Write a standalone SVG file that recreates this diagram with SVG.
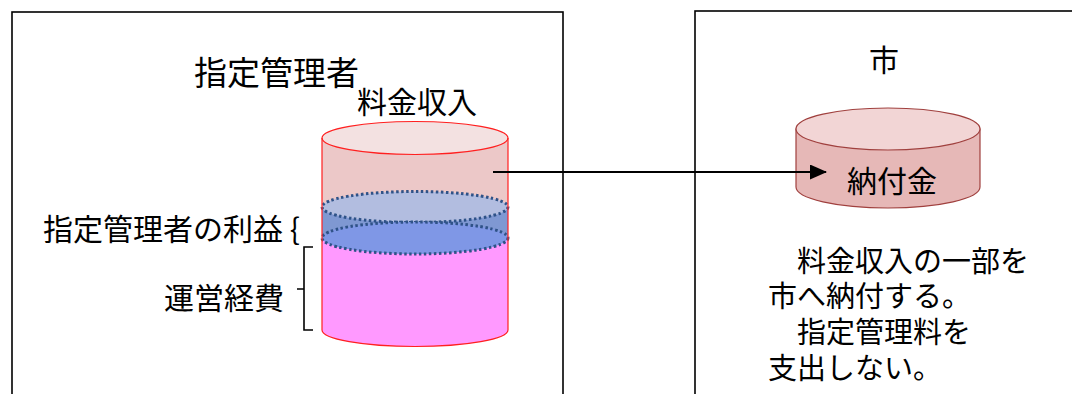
<svg xmlns="http://www.w3.org/2000/svg" width="1072" height="394" viewBox="0 0 1072 394">
<style>
.t{font-family:"Noto Sans CJK JP","Noto Sans CJK SC",sans-serif;fill:#000;}
.box{fill:#fff;stroke:#000;stroke-width:1.6;}
.dot{stroke:#2f5288;stroke-width:3;stroke-dasharray:2.5 2.5;}
</style>
<defs>
<marker id="ah" markerWidth="17" markerHeight="15" refX="16" refY="7.5" orient="auto" markerUnits="userSpaceOnUse">
<path d="M0,0 L17,7.5 L0,15 Z" fill="#000"/>
</marker>
</defs>
<rect width="1072" height="394" fill="#fff"/>
<g id="shitei-kanrisha">
<rect class="box" x="12" y="12" width="551" height="400"/>
<text class="t" x="194" y="85" font-size="33">指定管理者</text>
<text class="t" x="357" y="113" font-size="30">料金収入</text>
<text class="t" x="43" y="240" font-size="30">指定管理者の利益 {</text>
<text class="t" x="164" y="309" font-size="30">運営経費</text>
<path d="M313,247 L304,247 L304,289 L297,289 M304,289 L304,330 L313,330" fill="none" stroke="#000" stroke-width="1.6"/>
<g id="cylinder-left">
<path d="M322,238 L322,330 A93,16.5 0 0 0 508,330 L508,238 Z" fill="#ff99ff"/>
<path d="M322,138 L322,207 L508,207 L508,138 Z" fill="#ecc8c8"/>
<rect x="322" y="207" width="186" height="31" fill="#7f98d2"/>
<ellipse class="dot" cx="415" cy="207" rx="93" ry="15.5" fill="#b2bde0"/>
<ellipse class="dot" cx="415" cy="238" rx="93" ry="16" fill="#7f97e6"/>
<ellipse cx="415" cy="138" rx="93" ry="16.5" fill="#f3e1e1" stroke="#ff2020" stroke-width="1.2"/>
<path d="M322,138 L322,330 A93,16.5 0 0 0 508,330 L508,138" fill="none" stroke="#ff2020" stroke-width="1.2"/>
</g>
</g>
<g id="shi">
<rect class="box" x="695" y="11" width="420" height="400"/>
<text class="t" x="869" y="71" font-size="30">市</text>
<g id="cylinder-right">
<path d="M796,129 L796,187 A92,21 0 0 0 980,187 L980,129 Z" fill="#e6b8b7" stroke="#a0403e" stroke-width="1.2"/>
<ellipse cx="888" cy="129" rx="92" ry="21" fill="#f2d5d5" stroke="#a0403e" stroke-width="1.2"/>
<text class="t" x="847" y="192" font-size="30">納付金</text>
</g>
<text class="t" x="797" y="272" font-size="29">料金収入の一部を</text>
<text class="t" x="768" y="307" font-size="29">市へ納付する。</text>
<text class="t" x="797" y="343" font-size="29">指定管理料を</text>
<text class="t" x="768" y="379" font-size="29">支出しない。</text>
</g>
<g id="connectors">
<line x1="493" y1="172" x2="826" y2="172" stroke="#000" stroke-width="2" marker-end="url(#ah)"/>
</g>
</svg>
